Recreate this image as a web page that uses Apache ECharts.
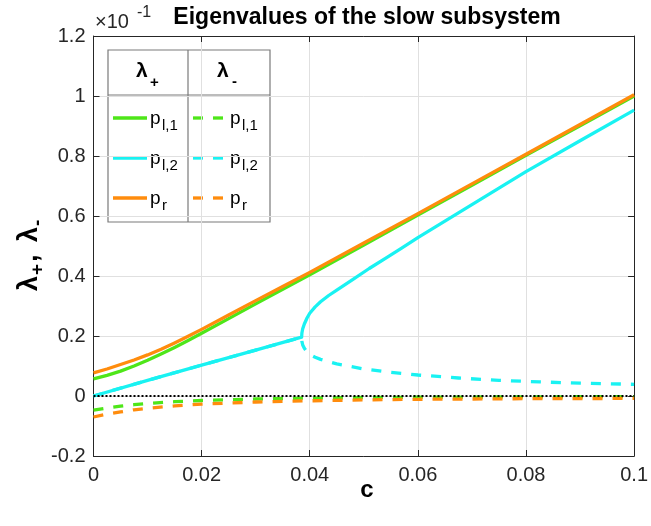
<!DOCTYPE html>
<html><head><meta charset="utf-8">
<script src="https://cdn.jsdelivr.net/npm/echarts@6/dist/echarts.min.js"></script>
<style>html,body{margin:0;padding:0;background:#fff}#c{width:651px;height:526px}</style>
</head><body><div id="c"></div>
<script>
// values shown in units of 1e-1 (as on the axis)
const xTicks = [0, 0.02, 0.04, 0.06, 0.08, 0.1];
const yTicks = [-0.2, 0, 0.2, 0.4, 0.6, 0.8, 1, 1.2];

const pl1Plus = [[0,0.057],[0.0025,0.069],[0.005,0.083],[0.0075,0.1],[0.01,0.119],[0.0125,0.14],[0.015,0.162],[0.0175,0.185],[0.02,0.209],[0.025,0.258],[0.03,0.307],[0.035,0.356],[0.04,0.404],[0.05,0.503],[0.06,0.603],[0.07,0.702],[0.08,0.802],[0.09,0.901],[0.1,1.0]];
const prPlus  = [[0,0.077],[0.0025,0.09],[0.005,0.105],[0.0075,0.12],[0.01,0.137],[0.0125,0.156],[0.015,0.177],[0.0175,0.199],[0.02,0.222],[0.025,0.27],[0.03,0.318],[0.035,0.365],[0.04,0.412],[0.05,0.51],[0.06,0.608],[0.07,0.707],[0.08,0.806],[0.09,0.905],[0.1,1.004]];
const pl2Plus = [[0,0],[0.01,0.052],[0.02,0.103],[0.03,0.153],[0.0385,0.196],[0.03855,0.21],[0.0387,0.224],[0.039,0.24],[0.0395,0.26],[0.04,0.276],[0.041,0.297],[0.042,0.314],[0.0435,0.335],[0.045,0.353],[0.048,0.389],[0.051,0.425],[0.054,0.459],[0.057,0.493],[0.06,0.528],[0.07,0.638],[0.08,0.748],[0.09,0.851],[0.1,0.953]];
const pl1Minus = [[0,-0.047],[0.0025,-0.04],[0.005,-0.034],[0.0075,-0.029],[0.01,-0.025],[0.015,-0.019],[0.02,-0.015],[0.03,-0.01],[0.04,-0.007],[0.05,-0.005],[0.06,-0.004],[0.08,-0.003],[0.1,-0.002]];
const prMinus  = [[0,-0.07],[0.0025,-0.06],[0.005,-0.053],[0.0075,-0.046],[0.01,-0.041],[0.015,-0.033],[0.02,-0.027],[0.03,-0.02],[0.04,-0.016],[0.05,-0.013],[0.06,-0.011],[0.08,-0.009],[0.1,-0.008]];
const pl2Minus = [[0,0],[0.01,0.052],[0.02,0.103],[0.03,0.153],[0.0385,0.196],[0.03855,0.182],[0.0387,0.17],[0.039,0.159],[0.0395,0.147],[0.04,0.138],[0.041,0.129],[0.042,0.122],[0.045,0.107],[0.05,0.09],[0.055,0.079],[0.06,0.07],[0.0675,0.06],[0.075,0.052],[0.0825,0.047],[0.09,0.043],[0.1,0.039]];
const zeroLine = [[0,0],[0.1,0]];

const GREEN = '#4ee619', CYAN = '#19f2f2', ORANGE = '#ff8c0d';
const FONT = "'Liberation Sans', Arial, Helvetica, sans-serif";
const AX = '#262626', GRID = '#e0e0e0';

const chart = echarts.init(document.getElementById('c'), null, {renderer: 'canvas'});

function line(name, data, color, dashed, z) {
  return {
    name, type: 'line', data, xAxisIndex: 0, yAxisIndex: 0,
    showSymbol: false, symbol: 'none', smooth: false,
    lineStyle: {color, width: 3.3, type: dashed ? [10, 10] : 'solid', cap: 'butt', join: 'round'},
    z, animation: false, silent: true
  };
}

function txt(x, y, s, size, opts) {
  return {type: 'text', x, y, style: Object.assign({
    text: s, fontSize: size, fontFamily: FONT, fill: '#000',
    textAlign: 'left', textVerticalAlign: 'middle'}, opts || {})};
}

// legend table (decoration)
const L = {x0: 108, y0: 50, x1: 270, y1: 222, xm: 188, yh: 95};
const rows = [118, 158, 198];
const legend = [
  {type: 'rect', shape: {x: L.x0, y: L.y0, width: L.x1 - L.x0, height: L.y1 - L.y0},
   style: {fill: '#fff', stroke: '#7a7a7a', lineWidth: 1.2}},
  {type: 'line', shape: {x1: L.x0, y1: L.yh, x2: L.x1, y2: L.yh}, style: {stroke: '#7a7a7a', lineWidth: 1.2}},
  {type: 'line', shape: {x1: L.xm, y1: L.y0, x2: L.xm, y2: L.y1}, style: {stroke: '#7a7a7a', lineWidth: 1.2}},
  txt(136, 71, 'λ', 21, {fontWeight: 'bold'}),
  txt(150, 83, '+', 15, {fontWeight: 'bold'}),
  txt(217, 71, 'λ', 21, {fontWeight: 'bold'}),
  txt(232, 82, '-', 15, {fontWeight: 'bold'})
];
const legendItems = [[GREEN, 'l,1'], [CYAN, 'l,2'], [ORANGE, 'r']];
legendItems.forEach((it, i) => {
  const y = rows[i];
  legend.push({type: 'line', shape: {x1: 113, y1: y, x2: 147, y2: y}, style: {stroke: it[0], lineWidth: 3.3}});
  legend.push({type: 'line', shape: {x1: 193, y1: y, x2: 224, y2: y}, style: {stroke: it[0], lineWidth: 3.3, lineDash: [10, 10]}});
  legend.push(txt(150, y + 1, 'p', 19));
  legend.push(txt(162, y + 8, it[1], 15));
  legend.push(txt(230, y + 1, 'p', 19));
  legend.push(txt(242, y + 8, it[1], 15));
});

const yLabel = {
  type: 'group', x: 30, y: 247, rotation: Math.PI / 2,
  children: [
    txt(-44, 0, 'λ', 27, {fontWeight: 'bold'}),
    txt(-28, 8, '+', 19, {fontWeight: 'bold'}),
    txt(-15, 0, ',', 27, {fontWeight: 'bold'}),
    txt(5, 0, 'λ', 27, {fontWeight: 'bold'}),
    txt(21, 8, '-', 19, {fontWeight: 'bold'})
  ]
};

const option = {
  animation: false,
  backgroundColor: '#fff',
  grid: {left: 93.5, right: 10.5, top: 36, bottom: 70, containLabel: false},
  xAxis: [
    {type: 'value', min: 0, max: 0.1, interval: 0.02, position: 'bottom',
     axisLine: {show: true, onZero: false, lineStyle: {color: AX, width: 1}},
     axisTick: {show: true, inside: true, length: 6, lineStyle: {color: AX}},
     axisLabel: {show: true, color: '#262626', fontSize: 20, fontFamily: FONT, margin: 9,
       formatter: v => String(+v.toFixed(4))},
     splitLine: {show: true, lineStyle: {color: GRID, width: 1}}},
    {type: 'value', min: 0, max: 0.1, interval: 0.02, position: 'top',
     axisLine: {show: true, onZero: false, lineStyle: {color: AX, width: 1}},
     axisTick: {show: true, inside: true, length: 6, lineStyle: {color: AX}},
     axisLabel: {show: false}, splitLine: {show: false}}
  ],
  yAxis: [
    {type: 'value', min: -0.2, max: 1.2, interval: 0.2, position: 'left',
     axisLine: {show: true, onZero: false, lineStyle: {color: AX, width: 1}},
     axisTick: {show: true, inside: true, length: 6, lineStyle: {color: AX}},
     axisLabel: {show: true, color: '#262626', fontSize: 20, fontFamily: FONT, margin: 8,
       formatter: v => String(+v.toFixed(4))},
     splitLine: {show: true, lineStyle: {color: GRID, width: 1}}},
    {type: 'value', min: -0.2, max: 1.2, interval: 0.2, position: 'right',
     axisLine: {show: true, onZero: false, lineStyle: {color: AX, width: 1}},
     axisTick: {show: true, inside: true, length: 6, lineStyle: {color: AX}},
     axisLabel: {show: false}, splitLine: {show: false}}
  ],
  series: [
    line('p_l,1 λ+', pl1Plus, GREEN, false, 2),
    line('p_l,2 λ+', pl2Plus, CYAN, false, 3),
    line('p_r λ+', prPlus, ORANGE, false, 4),
    line('p_l,1 λ-', pl1Minus, GREEN, true, 5),
    line('p_l,2 λ-', pl2Minus, CYAN, true, 1),
    line('p_r λ-', prMinus, ORANGE, true, 6),
    {name: 'zero', type: 'line', data: zeroLine, showSymbol: false, symbol: 'none',
     lineStyle: {color: '#000', width: 2, type: [2, 2]}, z: 7, silent: true}
  ],
  graphic: [
    txt(367, 18, 'Eigenvalues of the slow subsystem', 23, {fontWeight: 'bold', textAlign: 'center'}),
    txt(95, 22, '×10', 20, {fill: '#262626'}),
    txt(137, 13, '-1', 16, {fill: '#262626'}),
    txt(367, 490, 'c', 24, {fontWeight: 'bold', textAlign: 'center'}),
    yLabel,
    {type: 'group', z: 100, children: legend}
  ]
};
chart.setOption(option);
</script></body></html>
